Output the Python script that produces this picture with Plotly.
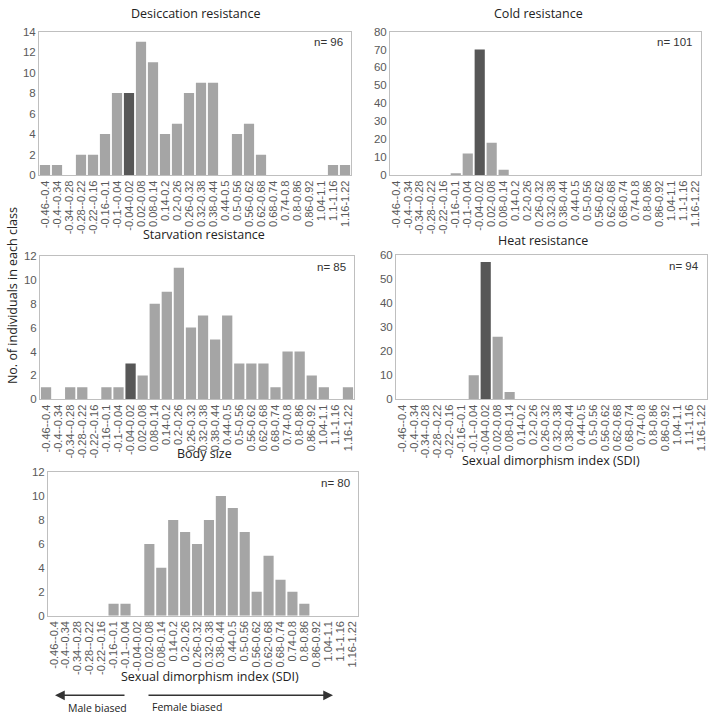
import plotly.graph_objects as go

categories = ["-0.46--0.4", "-0.4--0.34", "-0.34--0.28", "-0.28--0.22", "-0.22--0.16",
              "-0.16--0.1", "-0.1--0.04", "-0.04-0.02", "0.02-0.08", "0.08-0.14",
              "0.14-0.2", "0.2-0.26", "0.26-0.32", "0.32-0.38", "0.38-0.44",
              "0.44-0.5", "0.5-0.56", "0.56-0.62", "0.62-0.68", "0.68-0.74",
              "0.74-0.8", "0.8-0.86", "0.86-0.92", "1.04-1.1", "1.1-1.16", "1.16-1.22"]

desiccation = [1, 1, 0, 2, 2, 4, 8, 8, 13, 11, 4, 5, 8, 9, 9, 0, 4, 5, 2, 0, 0, 0, 0, 0, 1, 1]
cold = [0, 0, 0, 0, 0, 1, 12, 70, 18, 3, 0, 0, 0, 0, 0, 0, 0, 0, 0, 0, 0, 0, 0, 0, 0, 0]
starvation = [1, 0, 1, 1, 0, 1, 1, 3, 2, 8, 9, 11, 6, 7, 5, 7, 3, 3, 3, 1, 4, 4, 2, 1, 0, 1]
heat = [0, 0, 0, 0, 0, 0, 10, 57, 26, 3, 0, 0, 0, 0, 0, 0, 0, 0, 0, 0, 0, 0, 0, 0, 0, 0]
body_size = [0, 0, 0, 0, 0, 1, 1, 0, 6, 4, 8, 7, 6, 8, 10, 9, 7, 2, 5, 3, 2, 1, 0, 0, 0, 0]

titles = ["Desiccation resistance", "Cold resistance", "Starvation resistance",
          "Heat resistance", "Body size"]
n_labels = ["n= 96", "n= 101", "n= 85", "n= 94", "n= 80"]
y_max = [14, 80, 12, 60, 12]
y_dtick = [2, 10, 2, 10, 2]

W, H = 709, 720
LIGHT = "#a5a5a5"
DARK = "#575757"
TICK_COL = "#595959"
FONT = "Open Sans"
TICK_FONT = "Liberation Sans Narrow, Liberation Sans"

# panel boxes in page pixels: (left, right, top, bottom)
boxes = [(39, 351, 26, 172), (390, 701, 26, 172), (40, 354, 254, 400),
         (396, 707, 253, 400), (48, 358, 474, 620)]
title_pos = [(195, 8), (538, 8), (204, 232), (543, 238), (204, 455)]

series = [desiccation, cold, starvation, heat, body_size]

fig = go.Figure()
layout = dict(width=W, height=H, margin=dict(l=0, r=0, t=0, b=0),
              plot_bgcolor="white", paper_bgcolor="white", showlegend=False,
              bargap=0.15, font=dict(family=FONT, color="#222"))
annotations = []


def px_x(v):
    return v / W


def px_y(v):
    return 1 - v / H


def label(text, x, y, size=12.5, xanchor="center", color="#222", family=FONT, angle=0):
    return dict(text=text, x=px_x(x), y=px_y(y), xref="paper", yref="paper",
                showarrow=False, xanchor=xanchor, yanchor="middle", textangle=angle,
                font=dict(family=family, size=size, color=color))


for i, vals in enumerate(series):
    k = "" if i == 0 else str(i + 1)
    colors = [DARK if j == 7 else LIGHT for j in range(len(categories))]
    fig.add_trace(go.Bar(x=categories, y=vals, marker=dict(color=colors, line=dict(width=0)),
                         xaxis="x" + k, yaxis="y" + k, hoverinfo="x+y"))
    l, r, t, b = boxes[i]
    layout["xaxis" + k] = dict(domain=[px_x(l), px_x(r)], anchor="y" + k,
                               type="category", categoryorder="array", categoryarray=categories,
                               tickmode="linear", tick0=0, dtick=1,
                               tickangle=-90, tickfont=dict(family=TICK_FONT, size=11, color=TICK_COL),
                               showline=True, linecolor="#bfbfbf", linewidth=1, mirror=True,
                               ticks="", showgrid=False, fixedrange=True)
    layout["yaxis" + k] = dict(domain=[px_y(b), px_y(t)], anchor="x" + k,
                               range=[0, y_max[i]], dtick=y_dtick[i],
                               tickfont=dict(family=TICK_FONT, size=11.5, color=TICK_COL),
                               showline=True, linecolor="#bfbfbf", linewidth=1, mirror=True,
                               ticks="", showgrid=False, zeroline=False, fixedrange=True)
    tx, ty = title_pos[i]
    annotations.append(label(titles[i], tx, ty))
    annotations.append(label(n_labels[i], r - 6, t + 11, size=11.5, xanchor="right",
                             color="#333", family=TICK_FONT))

# axis titles
annotations.append(label("Sexual dimorphism index (SDI)", 551, 462))
annotations.append(label("Sexual dimorphism index (SDI)", 210, 682))
annotations.append(label("No. of individuals in each class", 12, 295, angle=-90))

# arrows
annotations.append(dict(text="", x=px_x(55), y=px_y(701), xref="paper", yref="paper",
                        showarrow=True, ax=71, ay=0, arrowhead=2, arrowsize=1.3, arrowwidth=1.5,
                        arrowcolor="#333", standoff=0))
annotations.append(dict(text="", x=px_x(333), y=px_y(701), xref="paper", yref="paper",
                        showarrow=True, ax=-186, ay=0, arrowhead=2, arrowsize=1.3, arrowwidth=1.5,
                        arrowcolor="#333", standoff=0))
annotations.append(label("Male biased", 97, 714, size=10.5))
annotations.append(label("Female biased", 187, 713, size=10.5))

layout["annotations"] = annotations
fig.update_layout(**layout)
fig.write_html("out.html", config={"displayModeBar": False},
               post_script="document.body.style.margin='0';document.body.style.overflow='hidden';")
